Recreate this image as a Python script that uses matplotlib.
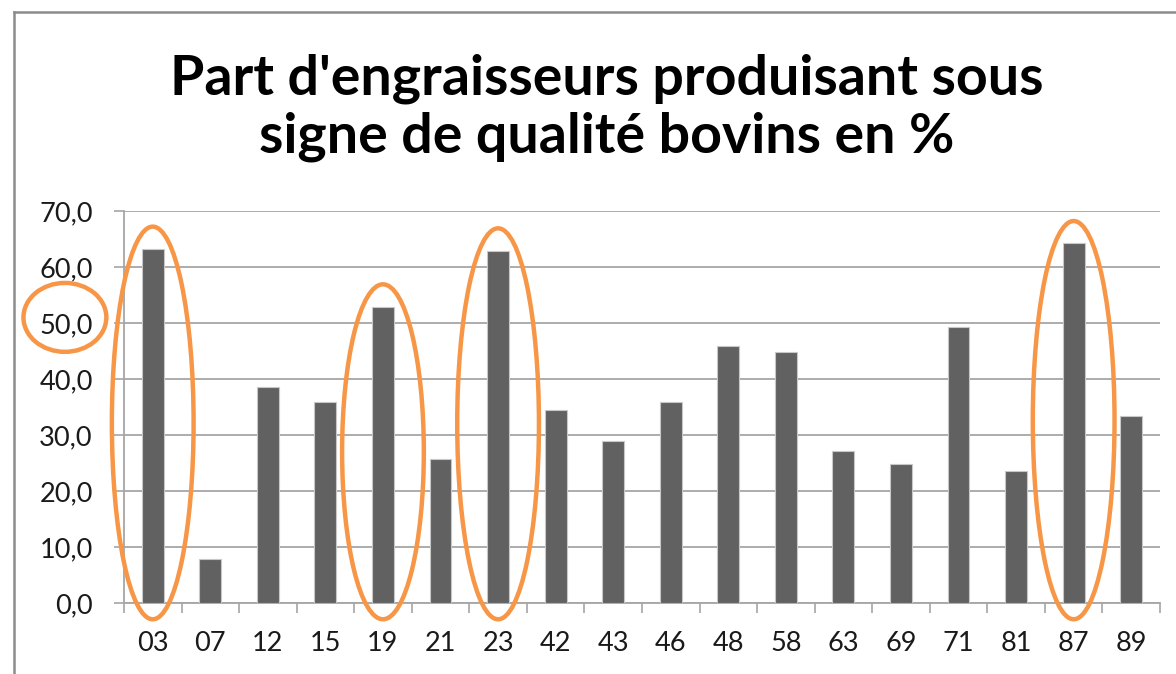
from matplotlib import pyplot as plt
from matplotlib.patches import Ellipse
from matplotlib.lines import Line2D
import matplotlib.transforms as mtransforms
import numpy as np

# données
departements = ['03', '07', '12', '15', '19', '21', '23', '42', '43',
                '46', '48', '58', '63', '69', '71', '81', '87', '89']
part_sq = [63.2, 7.8, 38.5, 35.9, 52.9, 25.8, 62.9, 34.5, 29.0,
           35.9, 45.9, 44.9, 27.1, 24.9, 49.2, 23.6, 64.2, 33.4]
entoures = ['03', '19', '23', '87']

plt.rcParams['font.family'] = ['Lato', 'DejaVu Sans']

fig = plt.figure(figsize=(11.76, 6.74), dpi=100)
ax = fig.add_axes([0.1054, 0.1053, 0.8810, 0.5817])

x = np.arange(len(departements))
ax.bar(x, part_sq, width=0.38, color='#616161', edgecolor='#c8c8c8',
       linewidth=0.8, zorder=3)

ax.set_xlim(-0.5, len(departements) - 0.5)
ax.set_ylim(0, 70)
ax.set_yticks(np.arange(0, 71, 10))
ax.set_yticklabels(['%d,0' % v for v in range(0, 71, 10)])
ax.set_xticks(x)
ax.set_xticklabels(departements)
ax.set_xticks(np.arange(-0.5, len(departements)), minor=True)

ax.tick_params(axis='x', which='major', length=0, pad=20, labelsize=19.5,
               labelcolor='#1a1a1a')
ax.tick_params(axis='x', which='minor', length=7.5, width=1.2, color='#a6a6a6',
               direction='out')
ax.tick_params(axis='y', length=7.5, width=1.2, color='#a6a6a6', pad=15,
               labelsize=19.5, labelcolor='#1a1a1a')

ax.grid(axis='y', color='#a6a6a6', linewidth=1.3, zorder=0)
for s in ['top', 'right']:
    ax.spines[s].set_visible(False)
for s in ['left', 'bottom']:
    ax.spines[s].set_color('#a6a6a6')
    ax.spines[s].set_linewidth(1.3)

# titre
fig.text(0.516, 0.840, "Part d'engraisseurs produisant sous\nsigne de qualité bovins en %",
         ha='center', va='center', fontsize=40, fontweight='bold',
         linespacing=1.17, color='black')

# ellipses orange
orange = '#f79646'
for d in entoures:
    i = departements.index(d)
    v = part_sq[i]
    haut = v + 4.0
    bas = -2.9
    ell = Ellipse((i, (haut + bas) / 2.0), 1.42, haut - bas, fill=False,
                  edgecolor=orange, linewidth=3.2, clip_on=False, zorder=5)
    ax.add_patch(ell)

trans = mtransforms.blended_transform_factory(ax.transAxes, ax.transData)
ax.add_patch(Ellipse((-0.057, 51.0), 0.080, 12.3, transform=trans, fill=False,
                     edgecolor=orange, linewidth=3.2, clip_on=False, zorder=5))

# cadre du graphique
fig.add_artist(Line2D([14 / 1176, 14 / 1176], [0, 1 - 12 / 674],
                      color='#8c8c8c', linewidth=1.8))
fig.add_artist(Line2D([14 / 1176, 1], [1 - 12 / 674, 1 - 12 / 674],
                      color='#8c8c8c', linewidth=1.8))

fig.savefig('out.png', dpi=100)
